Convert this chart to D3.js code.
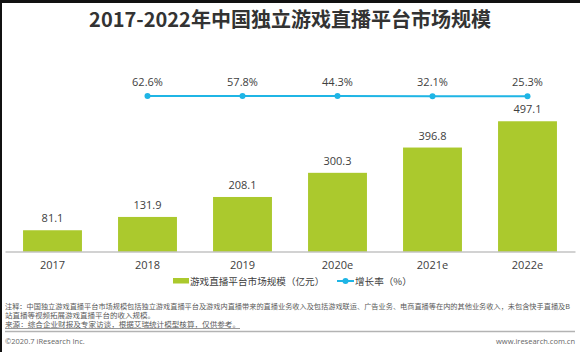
<!DOCTYPE html>
<html>
<head>
<meta charset="utf-8">
<script src="https://cdn.jsdelivr.net/npm/d3@7"></script>
<style>
    body { margin: 0; background: #fff; }
    svg { display: block; font-family: "Open Sans", "Noto Sans CJK SC", sans-serif; }
</style>
</head>
<body>
<div id="chart"></div>
<script>
const years = ['2017', '2018', '2019', '2020e', '2021e', '2022e'];
const marketSize = [81.1, 131.9, 208.1, 300.3, 396.8, 497.1];
const growthYears = ['2018', '2019', '2020e', '2021e', '2022e'];
const growthRate = [62.6, 57.8, 44.3, 32.1, 25.3];
const notes = [
    '注释：中国独立游戏直播平台市场规模包括独立游戏直播平台及游戏内直播带来的直播业务收入及包括游戏联运、广告业务、电商直播等在内的其他业务收入，未包含快手直播及B',
    '站直播等视频拓展游戏直播平台的收入规模。',
    '来源：综合企业财报及专家访谈，根据艾瑞统计模型核算，仅供参考。'
];

const width = 580, height = 352;
const green = '#abc92d', blue = '#1fb5e5';
const textColor = '#404040';
const cjk = '"Noto Sans CJK SC", sans-serif';

const svg = d3.select('#chart').append('svg')
    .attr('width', width)
    .attr('height', height);

svg.append('rect').attr('width', width).attr('height', height).attr('fill', '#fff');
// dark frame edge top/left
svg.append('rect').attr('width', width).attr('height', 3).attr('fill', '#111');
svg.append('rect').attr('width', 2).attr('height', height).attr('fill', '#111');

svg.append('text')
    .attr('x', 290)
    .attr('y', 27)
    .attr('text-anchor', 'middle')
    .style('font-family', cjk)
    .style('font-size', '20px')
    .style('font-weight', 'bold')
    .attr('fill', '#333')
    .text('2017-2022年中国独立游戏直播平台市场规模');

const x = d3.scaleBand().domain(years).range([5, 575]).paddingInner(0.38).paddingOuter(0.19);
const y = d3.scaleLinear().domain([0, 500]).range([251.5, 120.5]);
// growth line drawn flat near the top
const yRate = d3.scaleLinear().domain([0, 100]).range([96.4, 95.6]);

svg.selectAll('.bar')
    .data(marketSize)
    .enter().append('rect')
    .attr('class', 'bar')
    .attr('x', (d, i) => x(years[i]))
    .attr('y', d => y(d))
    .attr('width', x.bandwidth())
    .attr('height', d => y(0) - y(d))
    .attr('fill', green);

svg.selectAll('.barLabel')
    .data(marketSize)
    .enter().append('text')
    .attr('x', (d, i) => x(years[i]) + x.bandwidth() / 2)
    .attr('y', d => y(d) - 8)
    .attr('text-anchor', 'middle')
    .style('font-size', '11px')
    .attr('fill', textColor)
    .text(d => d.toFixed(1));

// x axis
const xAxis = svg.append('g')
    .attr('transform', `translate(0,${y(0)})`)
    .call(d3.axisBottom(x).tickSize(0).tickPadding(10));
xAxis.select('.domain').attr('stroke', '#a6a6a6').attr('stroke-width', 1.2);
xAxis.selectAll('text')
    .style('font-family', '"Open Sans", sans-serif')
    .style('font-size', '11px')
    .attr('fill', textColor);

// growth line
const cx = d => x(d) + x.bandwidth() / 2;
const line = d3.line()
    .x((d, i) => cx(growthYears[i]))
    .y(d => yRate(d));

svg.append('path')
    .datum(growthRate)
    .attr('d', line)
    .attr('fill', 'none')
    .attr('stroke', blue)
    .attr('stroke-width', 2);

svg.selectAll('.dot')
    .data(growthRate)
    .enter().append('circle')
    .attr('cx', (d, i) => cx(growthYears[i]))
    .attr('cy', d => yRate(d))
    .attr('r', 3)
    .attr('fill', blue);

svg.selectAll('.rateLabel')
    .data(growthRate)
    .enter().append('text')
    .attr('x', (d, i) => cx(growthYears[i]))
    .attr('y', d => yRate(d) - 10)
    .attr('text-anchor', 'middle')
    .style('font-size', '11px')
    .attr('fill', textColor)
    .text(d => d.toFixed(1) + '%');

// legend
const legend = svg.append('g').attr('transform', 'translate(0,281)');
legend.append('rect').attr('x', 173).attr('y', -3).attr('width', 16).attr('height', 5.5).attr('fill', green);
legend.append('text').attr('x', 190).attr('y', 3.5)
    .style('font-family', cjk).style('font-size', '9.6px').attr('fill', textColor)
    .text('游戏直播平台市场规模（亿元）');
legend.append('line').attr('x1', 337).attr('x2', 354).attr('y1', 0).attr('y2', 0)
    .attr('stroke', blue).attr('stroke-width', 2);
legend.append('circle').attr('cx', 345.5).attr('cy', 0).attr('r', 3).attr('fill', blue);
legend.append('text').attr('x', 355).attr('y', 3.5)
    .style('font-family', cjk).style('font-size', '9.6px').attr('fill', textColor)
    .text('增长率（%）');

// notes
svg.selectAll('.note')
    .data(notes)
    .enter().append('text')
    .attr('x', 5)
    .attr('y', (d, i) => 309 + i * 9.2)
    .style('font-family', cjk)
    .style('font-size', '6.3px')
    .style('text-decoration', (d, i) => i === 2 ? 'underline' : null)
    .attr('fill', '#595959')
    .attr('textLength', (d, i) => i === 0 ? 565 : (i === 1 ? 150 : 235))
    .attr('lengthAdjust', 'spacingAndGlyphs')
    .text(d => d);

svg.append('line')
    .attr('x1', 5).attr('x2', 575)
    .attr('y1', 331.5).attr('y2', 331.5)
    .attr('stroke', '#b3b3b3').attr('stroke-width', 1.5);

svg.append('text')
    .attr('x', 5).attr('y', 344)
    .style('font-size', '7.5px')
    .attr('fill', '#666')
    .text('©2020.7 iResearch Inc.');

svg.append('text')
    .attr('x', 575).attr('y', 344)
    .attr('text-anchor', 'end')
    .style('font-size', '7.5px')
    .attr('fill', '#666')
    .text('www.iresearch.com.cn');
</script>
</body>
</html>
